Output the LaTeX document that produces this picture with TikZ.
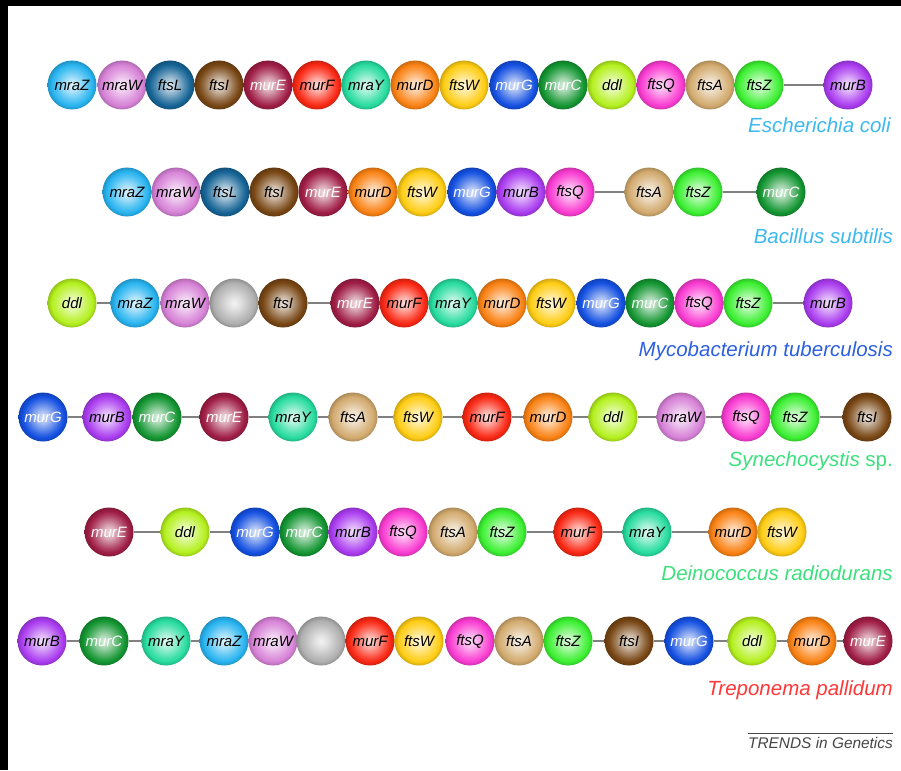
\documentclass[tikz,border=0pt]{standalone}
\usepackage{fontspec}
\newfontfamily\lsans{Liberation Sans}
\makeatletter
\pgfdeclareradialshading[tikz@ball]{genesphere}{\pgfpoint{0bp}{0bp}}{%
 color(0bp)=(tikz@ball!15!white);
 color(7bp)=(tikz@ball!40!white);
 color(16bp)=(tikz@ball!80!white);
 color(21bp)=(tikz@ball);
 color(25bp)=(tikz@ball!82!black);
 color(50bp)=(tikz@ball!82!black)}
\makeatother
% gene colours (cX) and text colours (tX)
\definecolor{cmraZ}{RGB}{40,180,240}   \colorlet{tmraZ}{black}
\definecolor{cmraW}{RGB}{215,130,215}  \colorlet{tmraW}{black}
\definecolor{cftsL}{RGB}{22,100,150}   \colorlet{tftsL}{black}
\definecolor{cftsI}{RGB}{120,70,20}    \colorlet{tftsI}{black}
\definecolor{cmurE}{RGB}{160,30,70}    \colorlet{tmurE}{white}
\definecolor{cmurF}{RGB}{250,40,20}    \colorlet{tmurF}{black}
\definecolor{cmraY}{RGB}{40,220,160}   \colorlet{tmraY}{black}
\definecolor{cmurD}{RGB}{250,130,20}   \colorlet{tmurD}{black}
\definecolor{cftsW}{RGB}{255,205,20}   \colorlet{tftsW}{black}
\definecolor{cmurG}{RGB}{20,80,225}    \colorlet{tmurG}{white}
\definecolor{cmurC}{RGB}{20,150,50}    \colorlet{tmurC}{white}
\definecolor{cddl}{RGB}{180,240,30}    \colorlet{tddl}{black}
\definecolor{cftsQ}{RGB}{250,60,210}   \colorlet{tftsQ}{black}
\definecolor{cftsA}{RGB}{210,170,110}  \colorlet{tftsA}{black}
\definecolor{cftsZ}{RGB}{60,240,50}    \colorlet{tftsZ}{black}
\definecolor{cmurB}{RGB}{170,60,240}   \colorlet{tmurB}{black}
\definecolor{cgrey}{RGB}{175,175,175}  \colorlet{tgrey}{black}
\definecolor{lblue}{RGB}{60,185,240}
\definecolor{dblue}{RGB}{45,95,225}
\definecolor{lgreen}{RGB}{60,225,125}
\definecolor{lred}{RGB}{255,55,55}
\definecolor{trendgray}{RGB}{70,70,70}
\tikzset{
  genenode/.style={circle, minimum size=49pt, inner sep=0pt,
    ball color=c#1, shading=genesphere, text=t#1,
    font=\lsans\itshape\fontsize{15}{15}\selectfont},
  link/.style={draw=black!50, line width=1.4pt},
  species/.style={anchor=base east, font=\lsans\itshape\fontsize{20.5}{20.5}\selectfont, inner sep=0pt},
}
\begin{document}
\begin{tikzpicture}[x=1pt,y=-1pt]
\useasboundingbox (0,0) rectangle (901,770);
\fill[white] (0,0) rectangle (901,770);
\fill[black] (0,0) rectangle (901,6);
\fill[black] (0,0) rectangle (8,770);
% Row 1: Escherichia coli
\foreach \x/\g/\t [count=\i] in {72/mraZ/mraZ,122/mraW/mraW,170/ftsL/ftsL,219/ftsI/ftsI,268/murE/murE,317/murF/murF,366/mraY/mraY,415/murD/murD,464/ftsW/ftsW,514/murG/murG,563/murC/murC,612/ddl/ddl,661/ftsQ/ftsQ,710/ftsA/ftsA,759/ftsZ/ftsZ,848/murB/murB}
  {\node[genenode=\g] (ra\i) at (\x,85) {\t};}
\draw[link] (ra15) -- (ra16);
\node[species, text=lblue, anchor=base west] (ecoli) at (748,133) {Escherichia coli};
% Row 2: Bacillus subtilis
\foreach \x/\g/\t [count=\i] in {127/mraZ/mraZ,176/mraW/mraW,225/ftsL/ftsL,274/ftsI/ftsI,323/murE/murE,373/murD/murD,422/ftsW/ftsW,472/murG/murG,521/murB/murB,570/ftsQ/ftsQ,649/ftsA/ftsA,698/ftsZ/ftsZ,781/murC/murC}
  {\node[genenode=\g] (rb\i) at (\x,192) {\t};}
\draw[link] (rb10) -- (rb11);
\draw[link] (rb12) -- (rb13);
\node[species, text=lblue] (bsub) at (893,243) {Bacillus subtilis};
% Row 3: Mycobacterium tuberculosis
\foreach \x/\g/\t [count=\i] in {72/ddl/ddl,135/mraZ/mraZ,185/mraW/mraW,234/grey/{},283/ftsI/ftsI,355/murE/murE,404/murF/murF,453/mraY/mraY,502/murD/murD,551/ftsW/ftsW,601/murG/murG,650/murC/murC,699/ftsQ/ftsQ,748/ftsZ/ftsZ,828/murB/murB}
  {\node[genenode=\g] (rc\i) at (\x,303) {\t};}
\draw[link] (rc1) -- (rc2);
\draw[link] (rc5) -- (rc6);
\draw[link] (rc14) -- (rc15);
\node[species, text=dblue] (mtb) at (893,356) {Mycobacterium tuberculosis};
% Row 4: Synechocystis sp.
\foreach \x/\g/\t [count=\i] in {43/murG/murG,107/murB/murB,157/murC/murC,224/murE/murE,293/mraY/mraY,353/ftsA/ftsA,418/ftsW/ftsW,487/murF/murF,548/murD/murD,613/ddl/ddl,681/mraW/mraW,746/ftsQ/ftsQ,795/ftsZ/ftsZ,867/ftsI/ftsI}
  {\node[genenode=\g] (rd\i) at (\x,417) {\t};}
\foreach \a/\b in {1/2,3/4,4/5,5/6,6/7,7/8,8/9,9/10,10/11,11/12,13/14}
  {\draw[link] (rd\a) -- (rd\b);}
\node[species, text=lgreen] (syn) at (893,466) {Synechocystis\/ {\upshape sp.}};
% Row 5: Deinococcus radiodurans
\foreach \x/\g/\t [count=\i] in {109/murE/murE,185/ddl/ddl,255/murG/murG,304/murC/murC,353/murB/murB,403/ftsQ/ftsQ,453/ftsA/ftsA,502/ftsZ/ftsZ,578/murF/murF,647/mraY/mraY,733/murD/murD,782/ftsW/ftsW}
  {\node[genenode=\g] (re\i) at (\x,532) {\t};}
\foreach \a/\b in {1/2,2/3,8/9,9/10,10/11}
  {\draw[link] (re\a) -- (re\b);}
\node[species, text=lgreen] (dra) at (893,580) {Deinococcus radiodurans};
% Row 6: Treponema pallidum
\foreach \x/\g/\t [count=\i] in {42/murB/murB,104/murC/murC,166/mraY/mraY,224/mraZ/mraZ,273/mraW/mraW,321/grey/{},370/murF/murF,419/ftsW/ftsW,470/ftsQ/ftsQ,519/ftsA/ftsA,568/ftsZ/ftsZ,629/ftsI/ftsI,689/murG/murG,752/ddl/ddl,812/murD/murD,868/murE/murE}
  {\node[genenode=\g] (rf\i) at (\x,641) {\t};}
\foreach \a/\b in {1/2,2/3,3/4,11/12,12/13,13/14,14/15,15/16}
  {\draw[link] (rf\a) -- (rf\b);}
\node[species, text=lred] (tpa) at (893,695) {Treponema pallidum};
% Footer
\node[anchor=base east, inner sep=0pt, text=trendgray, font=\lsans\itshape\fontsize{15.4}{15.4}\selectfont] (trends) at (893,748) {TRENDS in Genetics};
\draw[trendgray, line width=0.8pt] (trends.west |- 0,733) -- (trends.east |- 0,733);
\end{tikzpicture}
\end{document}
